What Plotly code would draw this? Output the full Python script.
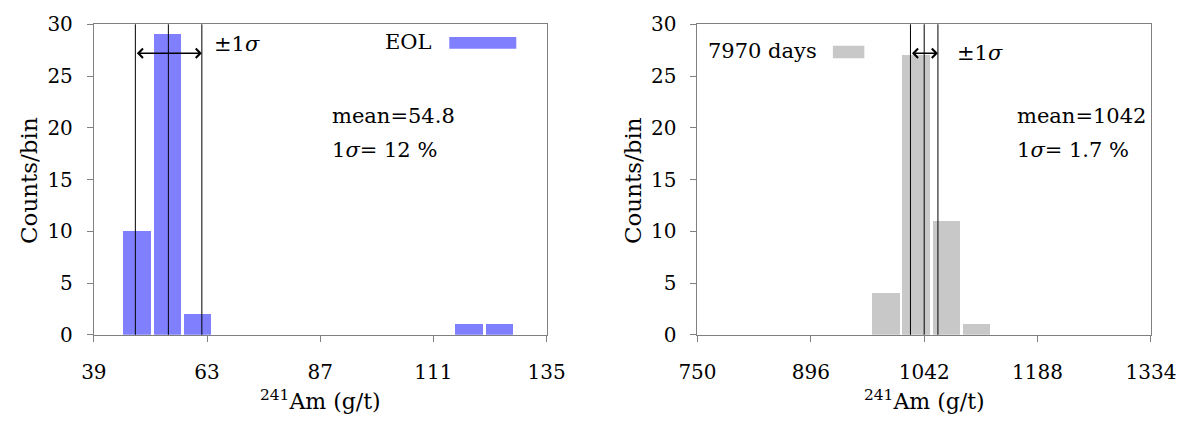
import plotly.graph_objects as go

# ---- data ----
left_centers = [48.1, 54.5, 60.9, 118.5, 124.9]
left_counts = [10, 29, 2, 1, 1]
left_bin = 6.4
left_lines = [47.8, 54.8, 61.9]   # -1 sigma, mean, +1 sigma
left_ticks = [39, 63, 87, 111, 135]

right_centers = [993.3, 1032.2, 1071.3, 1110.2]
right_counts = [4, 27, 11, 1]
right_bin = 39.0
right_lines = [1024.3, 1042.0, 1059.7]
right_ticks = [750, 896, 1042, 1188, 1334]

y_ticks = [0, 5, 10, 15, 20, 25, 30]
arrow_y = 27.2

BLUE = "rgb(128,128,255)"
GRAY = "rgb(200,200,200)"
FONT = "DejaVu Serif"
FS = 20
FT = 21
AXC = "rgb(128,128,128)"

W, H = 1200, 427
def px(x):
    return x / W
def py(y):
    return 1 - y / H

fig = go.Figure()
fig.add_trace(go.Bar(x=left_centers, y=left_counts, width=[left_bin * 0.9] * len(left_centers),
                     marker=dict(color=BLUE, line=dict(width=0)), xaxis="x", yaxis="y", showlegend=False))
fig.add_trace(go.Bar(x=right_centers, y=right_counts, width=[right_bin * 0.9] * len(right_centers),
                     marker=dict(color=GRAY, line=dict(width=0)), xaxis="x2", yaxis="y2", showlegend=False))

ydom = [py(342), py(13)]
axis_common = dict(showline=True, linecolor=AXC, linewidth=1, mirror=True, ticks="outside",
                   ticklen=6, tickcolor=AXC, showgrid=False, zeroline=False, ticklabeloverflow="allow",
                   tickfont=dict(family=FONT, size=FS, color="black"))

fig.update_layout(
    width=W, height=H, margin=dict(l=0, r=0, t=0, b=0),
    paper_bgcolor="white", plot_bgcolor="white", bargap=0,
    font=dict(family=FONT, size=FS, color="black"),
    xaxis=dict(domain=[px(77.7), px(547.7)], range=[39, 135], tickvals=left_ticks, anchor="y",
               ticklabelstandoff=13, **axis_common),
    yaxis=dict(domain=ydom, range=[0, 30], tickvals=y_ticks, anchor="x",
               ticklabelstandoff=10, **axis_common),
    xaxis2=dict(domain=[px(704.3), px(1175)], range=[750, 1334], tickvals=right_ticks, anchor="y2",
                ticklabelstandoff=13, **axis_common),
    yaxis2=dict(domain=ydom, range=[0, 30], tickvals=y_ticks, anchor="x2",
                ticklabelstandoff=10, **axis_common),
)

shapes = []
for xv in left_lines:
    shapes.append(dict(type="line", xref="x", yref="y domain", x0=xv, x1=xv, y0=0, y1=1,
                       line=dict(color="black", width=1)))
for xv in right_lines:
    shapes.append(dict(type="line", xref="x2", yref="y2 domain", x0=xv, x1=xv, y0=0, y1=1,
                       line=dict(color="black", width=1)))
# legend swatches
shapes.append(dict(type="rect", xref="x domain", yref="y domain", x0=0.785, x1=0.933, y0=0.921, y1=0.9593,
                   fillcolor=BLUE, line=dict(width=0)))
shapes.append(dict(type="rect", xref="x2 domain", yref="y2 domain", x0=0.2986, x1=0.368, y0=0.8907, y1=0.931,
                   fillcolor=GRAY, line=dict(width=0)))
fig.update_layout(shapes=shapes)

ann = []
# double-headed arrows
ann.append(dict(x=left_lines[2], y=arrow_y, ax=left_lines[0], ay=arrow_y, xref="x", yref="y",
                axref="x", ayref="y", text="", showarrow=True, arrowside="end+start",
                arrowhead=4, arrowsize=1.2, arrowwidth=1.5, arrowcolor="black"))
ann.append(dict(x=right_lines[2], y=arrow_y, ax=right_lines[0], ay=arrow_y, xref="x2", yref="y2",
                axref="x2", ayref="y2", text="", showarrow=True, arrowside="end+start",
                arrowhead=4, arrowsize=1.2, arrowwidth=1.5, arrowcolor="black"))

def txt(x, y, xref, yref, s, xanchor="left", size=FT, **kw):
    d = dict(x=x, y=y, xref=xref, yref=yref, text=s, showarrow=False, xanchor=xanchor,
             yanchor="middle", font=dict(family=FONT, size=size, color="black"))
    d.update(kw)
    return d

ann.append(txt(0.262, 0.937, "x domain", "y domain", "±1<i>σ</i>"))
ann.append(txt(0.567, 0.907, "x2 domain", "y2 domain", "±1<i>σ</i>"))
ann.append(txt(0.752, 0.942, "x domain", "y domain", "EOL", xanchor="right"))
ann.append(txt(0.268, 0.913, "x2 domain", "y2 domain", "7970 days", xanchor="right"))
ann.append(txt(0.521, 0.703, "x domain", "y domain", "mean=54.8"))
ann.append(txt(0.521, 0.595, "x domain", "y domain", "1<i>σ</i>= 12 %"))
ann.append(txt(0.701, 0.703, "x2 domain", "y2 domain", "mean=1042"))
ann.append(txt(0.701, 0.595, "x2 domain", "y2 domain", "1<i>σ</i>= 1.7 %"))
# axis titles
ann.append(txt(px(11), py(178.5), "paper", "paper", "Counts/bin", xanchor="center",
               size=23, textangle=-90))
ann.append(txt(px(638), py(178.5), "paper", "paper", "Counts/bin", xanchor="center",
               size=23, textangle=-90))
ann.append(txt(0.5, py(411), "x domain", "paper", "<sup>241</sup>Am (g/t)", xanchor="center", size=22))
ann.append(txt(0.5, py(411), "x2 domain", "paper", "<sup>241</sup>Am (g/t)", xanchor="center", size=22))
fig.update_layout(annotations=ann)

fig.write_html("out.html")
